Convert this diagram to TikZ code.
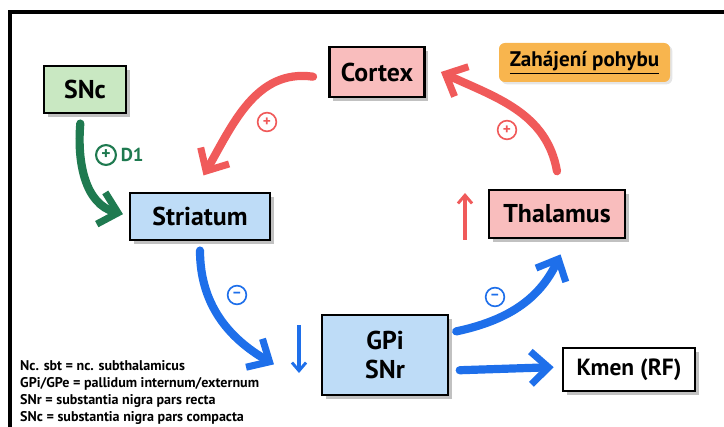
\documentclass[tikz,border=0pt]{standalone}
\usepackage{fontspec}
\setmainfont{PT Sans}
\usepackage{tikz}
\usetikzlibrary{arrows.meta, positioning, shadows}
\definecolor{snbg}{HTML}{C9E8C2}
\definecolor{ctbg}{HTML}{F9BDBD}
\definecolor{stbg}{HTML}{BEDCF7}
\definecolor{orng}{HTML}{F8B54E}
\definecolor{grn}{HTML}{1F7A50}
\definecolor{rd}{HTML}{F05A5A}
\definecolor{blu}{HTML}{1E6FEA}

\begin{document}
\begin{tikzpicture}[x=0.03cm, y=-0.03cm,
    nucleus/.style={rectangle, draw=black, line width=2pt, font=\fontsize{22}{25}\selectfont\bfseries,
                    align=center, inner sep=2pt,
                    drop shadow={shadow xshift=3pt, shadow yshift=-3pt, fill=black!30, opacity=0.8}},
    path/.style={line width=7pt, line cap=round,
                 -{Straight Barb[length=15pt, width=28pt, line width=6pt]}},
    tiny/.style={line width=2.8pt, -{Straight Barb[length=7pt, width=12pt, line width=2.5pt]}},
    sign/.style={circle, draw, line width=1.4pt, inner sep=0pt, minimum size=16pt,
                 font=\fontsize{13}{13}\selectfont\bfseries}
]
    \useasboundingbox (0,0) rectangle (724,427);
    \draw[line width=3.4pt] (10,430) -- (10,12) -- (730,12);

    \node[nucleus, fill=snbg, minimum width=2.46cm, minimum height=1.41cm] (snc) at (85,89.5) {SNc};
    \node[nucleus, fill=ctbg, minimum width=2.85cm, minimum height=1.5cm] (cortex) at (377,72) {Cortex};
    \node[nucleus, fill=stbg, minimum width=4.2cm, minimum height=1.41cm] (striatum) at (200,216.5) {Striatum};
    \node[nucleus, fill=ctbg, minimum width=4.08cm, minimum height=1.44cm] (thalamus) at (557,214) {Thalamus};
    \node[nucleus, fill=stbg, minimum width=3.78cm, minimum height=2.4cm] (gpi) at (385,355) {GPi\\SNr};
    \node[nucleus, fill=white, drop shadow={opacity=0}, minimum width=3.96cm, minimum height=1.29cm,
          font=\fontsize{20}{22}\selectfont\bfseries] (kmen) at (629,369.5) {Kmen (RF)};
    \node[rectangle, rounded corners=5pt, fill=orng, minimum width=5.13cm, minimum height=1.17cm,
          font=\fontsize{18}{20}\selectfont\bfseries,
          drop shadow={shadow xshift=2pt, shadow yshift=-2pt, fill=black!20}] (start) at (584.5,62.5)
          {\underline{Zahájení pohybu}};

    \draw[path, grn] ([xshift=-4pt, yshift=-8pt]snc.south) to[out=-95, in=165] ([xshift=-5pt, yshift=2pt]striatum.west);
    \draw[path, rd] ([xshift=-13pt, yshift=-4pt]cortex.west) to[out=172, in=60] ([xshift=3pt, yshift=14pt]striatum.north);
    \draw[path, rd] ([yshift=15pt]thalamus.north) to[out=100, in=-25] ([xshift=13pt]cortex.east);
    \draw[path, blu] ([yshift=-8pt]striatum.south) to[out=-90, in=150] ([xshift=-40pt, yshift=-8pt]gpi.west);
    \draw[path, blu] ([xshift=6pt, yshift=-15pt]gpi.north east) to[out=12, in=-115] ([xshift=3pt, yshift=-13pt]thalamus.south);
    \draw[path, blu] ([xshift=9pt, yshift=-13pt]gpi.east) -- ([xshift=-7pt, yshift=2pt]kmen.west);

    \coordinate (up1) at (465,240);
    \coordinate (up2) at (465,193);
    \coordinate (dn1) at (299,325);
    \coordinate (dn2) at (299,373);
    \draw[tiny, rd] (up1) -- (up2);
    \draw[tiny, blu] (dn1) -- (dn2);

    \node[sign, draw=grn, text=grn, minimum size=17pt, line width=1.8pt, font=\fontsize{15}{15}\selectfont\bfseries] (d1sign) at (106,155) {+};
    \node[right=3pt of d1sign, text=grn, font=\fontsize{16}{16}\selectfont\bfseries, inner sep=0pt] (d1) {D1};
    \node[sign, draw=rd, text=rd] (ctsign) at (267,122) {+};
    \node[sign, draw=rd, text=rd] (thsign) at (507,130) {+};
    \node[sign, draw=blu, text=blu] (stsign) at (237,295) {--};
    \node[sign, draw=blu, text=blu] (gpsign) at (495,297) {--};

    \node[anchor=north west, align=left, inner sep=0pt, font=\fontsize{12}{14.6}\selectfont\bfseries] (legend) at (20,360) {
        Nc. sbt = nc. subthalamicus\\
        GPi/GPe = pallidum internum/externum\\
        SNr = substantia nigra pars recta\\
        SNc = substantia nigra pars compacta};
\end{tikzpicture}
\end{document}
